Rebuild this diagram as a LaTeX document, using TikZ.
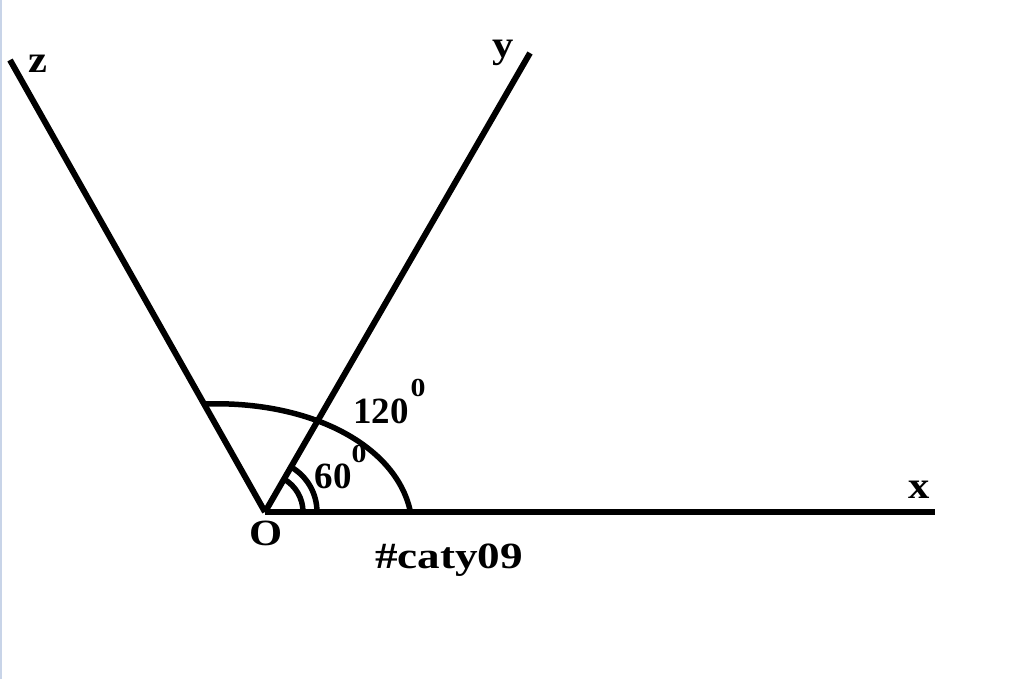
\documentclass[tikz,border=0pt]{standalone}
\usepackage{fontspec}
\setmainfont{Liberation Serif}
\usetikzlibrary{calc}
\begin{document}
\begin{tikzpicture}[x=1pt,y=-1pt,
  ray/.style={line width=6pt,line cap=butt},
  arcline/.style={line width=5.5pt},
  lbl/.style={inner sep=0pt,font=\bfseries\fontsize{37}{41}\selectfont},
  letter/.style={inner sep=0pt,xscale=1.12,font=\bfseries\fontsize{38}{42}\selectfont},
  suplbl/.style={inner sep=0pt,xscale=1.15,font=\bfseries\fontsize{26}{30}\selectfont}]
\useasboundingbox (0,0) rectangle (1024,679);
\fill[white] (0,0) rectangle (1024,679);
\draw[line width=2.5pt,color={rgb,255:red,200;green,212;blue,232}] (1,0) -- (1,679);
\coordinate (O) at (265,512);
\coordinate (X) at (935,512);
\coordinate (Y) at (530,53);
\coordinate (Z) at (10,60);
\draw[ray] (O) -- (X);
\draw[ray] (O) -- (Y);
\draw[ray] (O) -- (Z);
\draw[arcline] (410,510) .. controls (395,445) and (310,400) .. (203,404);
\draw[arcline] ($(O)+(38,0)$) arc[start angle=0,end angle=-60,radius=38];
\draw[arcline] ($(O)+(52,0)$) arc[start angle=0,end angle=-60,radius=52];
\node[letter] (lz) at (38,64) {z};
\node[letter] (ly) at (503,53) {y};
\node[letter] (lx) at (919,490) {x};
\node[lbl,xscale=1.15] (lO) at (266,533) {O};
\node[lbl] (l120) at (381,411) {120};
\node[suplbl] (s120) at (418,388) {0};
\node[lbl] (l60) at (333,476) {60};
\node[suplbl] (s60) at (359,454) {0};
\node[lbl,xscale=1.22] (tag) at (449,560) {\#caty09};
\end{tikzpicture}
\end{document}
